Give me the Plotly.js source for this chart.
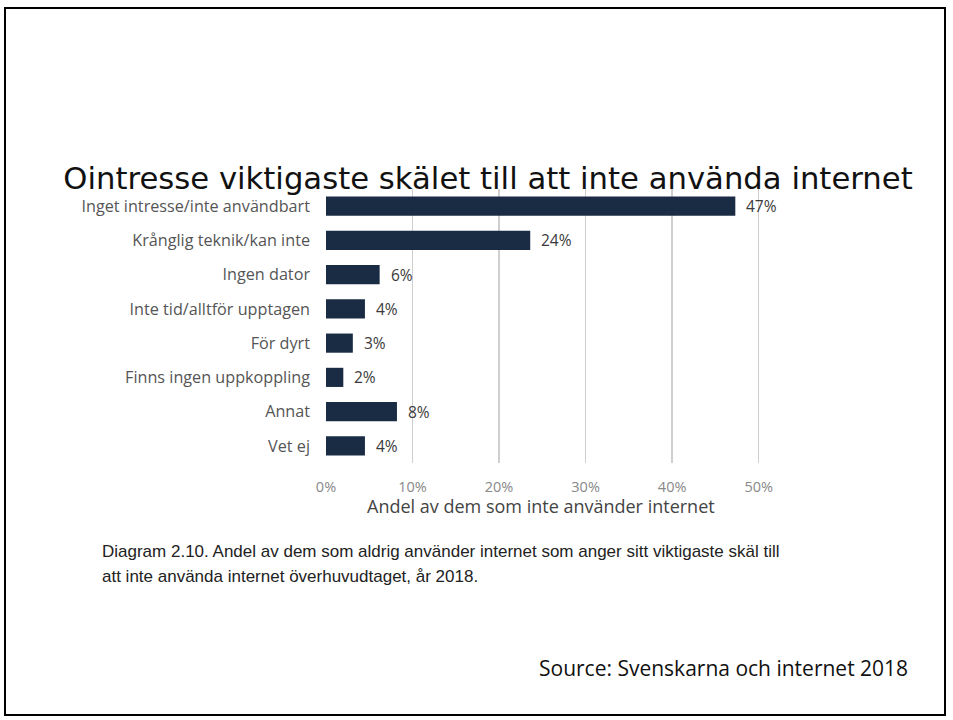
<!DOCTYPE html>
<html>
<head>
<meta charset="utf-8">
<script src="https://cdn.plot.ly/plotly-3.0.1.min.js"></script>
<style>
  html, body { margin: 0; padding: 0; background: #fff; }
  #wrap { position: relative; width: 953px; height: 720px; overflow: hidden; }
  #chart { width: 953px; height: 720px; }
  #frame { position: absolute; left: 4px; top: 7px; width: 942px; height: 709px;
           border: 2px solid #000; pointer-events: none; box-sizing: border-box; }
</style>
</head>
<body>
<div id="wrap">
  <div id="chart"></div>
  <div id="frame"></div>
</div>
<script>
const categories = [
  "Inget intresse/inte användbart",
  "Krånglig teknik/kan inte",
  "Ingen dator",
  "Inte tid/alltför upptagen",
  "För dyrt",
  "Finns ingen uppkoppling",
  "Annat",
  "Vet ej"
];
const values = [47.3, 23.6, 6.2, 4.5, 3.1, 2.0, 8.2, 4.5];
const valueLabels = ["47%", "24%", "6%", "4%", "3%", "2%", "8%", "4%"];
const tickValues = [0, 10, 20, 30, 40, 50];
const tickLabels = ["0%", "10%", "20%", "30%", "40%", "50%"];

const titleText = "Ointresse viktigaste skälet till att inte använda internet";
const axisTitleText = "Andel av dem som inte använder internet";
const captionLine1 = "Diagram 2.10. Andel av dem som aldrig använder internet som anger sitt viktigaste skäl till";
const captionLine2 = "att inte använda internet överhuvudtaget, år 2018.";
const sourceText = "Source: Svenskarna och internet 2018";

const W = 953, H = 720;
const L = 326, R = 190, T = 189, B = 257;
const plotW = W - L - R, plotH = H - T - B;
const px = x => (x - L) / plotW;
const py = y => (H - B - y) / plotH;

const trace = {
  type: "bar",
  orientation: "h",
  x: values,
  y: categories,
  marker: { color: "#1a2c44" },
  width: 0.56,
  hoverinfo: "none"
};

const labelAnns = values.map((v, i) => ({
  x: v, y: categories[i], xref: "x", yref: "y",
  text: valueLabels[i], showarrow: false,
  xanchor: "left", xshift: 9,
  font: { family: "Open Sans, sans-serif", size: 15.5, color: "#3a3a3a" }
}));

const layout = {
  width: W, height: H,
  margin: { l: L, r: R, t: T, b: B, pad: 0 },
  paper_bgcolor: "#ffffff",
  plot_bgcolor: "#ffffff",
  showlegend: false,
  title: {
    text: titleText,
    xref: "container", yref: "container",
    x: 488 / W, y: 1 - 178 / H, xanchor: "center", yanchor: "middle",
    font: { family: "DejaVu Sans, sans-serif", size: 30.7, color: "#111111" }
  },
  xaxis: {
    range: [0, 50.5],
    tickvals: tickValues,
    ticktext: tickLabels,
    showgrid: true,
    gridcolor: "#cfcfcf",
    gridwidth: 1.5,
    zeroline: false,
    showline: false,
    ticks: "",
    ticklabelstandoff: 13,
    tickfont: { family: "Open Sans, sans-serif", size: 14.5, color: "#888888" },
    fixedrange: true
  },
  yaxis: {
    autorange: "reversed",
    type: "category",
    showgrid: false,
    zeroline: false,
    showline: false,
    ticks: "",
    ticklabelstandoff: 15,
    tickfont: { family: "Open Sans, sans-serif", size: 16.2, color: "#555555" },
    fixedrange: true
  },
  annotations: labelAnns.concat([
    { xref: "paper", yref: "paper", x: px(541), y: py(506), xanchor: "center", yanchor: "middle",
      text: axisTitleText, showarrow: false,
      font: { family: "Open Sans, sans-serif", size: 18, color: "#444444" } },
    { xref: "paper", yref: "paper", x: px(100), y: py(551), xanchor: "left", yanchor: "middle",
      text: captionLine1, showarrow: false,
      font: { family: "Liberation Sans, Arial, sans-serif", size: 17, color: "#222222" } },
    { xref: "paper", yref: "paper", x: px(100), y: py(576), xanchor: "left", yanchor: "middle",
      text: captionLine2, showarrow: false,
      font: { family: "Liberation Sans, Arial, sans-serif", size: 17, color: "#222222" } },
    { xref: "paper", yref: "paper", x: px(910), y: py(668), xanchor: "right", yanchor: "middle",
      text: sourceText, showarrow: false,
      font: { family: "Open Sans, sans-serif", size: 21, color: "#111111" } }
  ])
};

Plotly.newPlot("chart", [trace], layout, { displayModeBar: false, staticPlot: true });
</script>
</body>
</html>
